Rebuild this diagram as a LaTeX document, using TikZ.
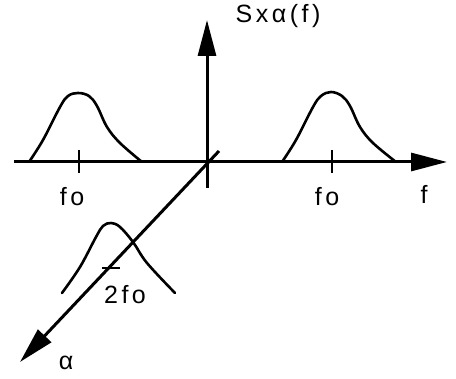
\documentclass[tikz,border=0pt]{standalone}
\usepackage{fontspec}
\setmainfont{Liberation Sans}[LetterSpace=14]
\usetikzlibrary{arrows.meta}
\begin{document}
\begin{tikzpicture}[x=1pt,y=-1pt,
  axis/.style={line width=3pt,-{Triangle[length=36pt,width=18pt]}},
  curve/.style={line width=2.6pt,line cap=round,line join=round},
  tick/.style={line width=2.6pt},
  lbl/.style={font=\fontsize{25}{27}\selectfont,inner sep=0pt}]
\useasboundingbox (0,0) rectangle (456,379);
% axis coordinates
\coordinate (hstart) at (14,162);
\coordinate (hend) at (447,162);
\coordinate (vstart) at (207,188);
\coordinate (vend) at (207,20);
\coordinate (dstart) at (219,151);
\coordinate (dend) at (20,362);
% left bump
\draw[curve] plot[smooth,tension=0.6] coordinates
  {(29,162) (43,140) (60,107) (68,96) (78,93) (89,96) (97,106) (107,127) (120,143) (142,162)};
% right bump
\draw[curve] plot[smooth,tension=0.6] coordinates
  {(282,162) (296,140) (313,107) (321,96) (331,92) (342,96) (350,106) (360,127) (373,143) (396,162)};
% lower bump
\draw[curve] plot[smooth,tension=0.6] coordinates
  {(62,293) (80,267) (96,237) (103,226) (111,223) (120,227) (133,242) (147,263) (175,293)};
% axes
\draw[axis] (hstart) -- (hend);
\draw[axis] (vstart) -- (vend);
\draw[axis] (dstart) -- (dend);
% ticks
\draw[tick] (79,150) -- (79,173);
\draw[tick] (332,150) -- (332,173);
\draw[tick] (102,268) -- (120,268);
% labels
\node[lbl] (f0l) at (72,197) {fo};
\node[lbl] (f0r) at (327,197) {fo};
\node[lbl] (fl) at (424,194) {f};
\node[lbl] (sx) at (278,16) {Sxα(f)};
\node[lbl] (twof) at (125,295) {2fo};
\node[lbl] (al) at (66,363) {α};
\end{tikzpicture}
\end{document}
